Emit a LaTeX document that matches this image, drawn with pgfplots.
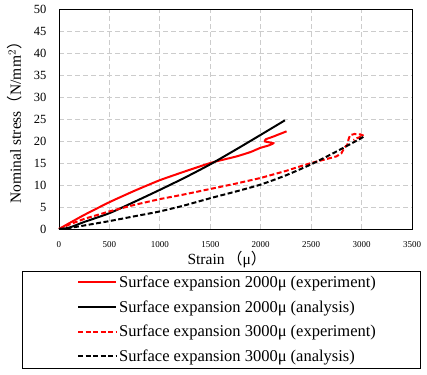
\documentclass[border=0pt]{standalone}
\usepackage{pgfplots}
\pgfplotsset{compat=1.18}
\usepackage{fontspec}
\setmainfont{Liberation Serif}
\newfontfamily\cjk{Noto Sans CJK SC}
\begin{document}
\begin{tikzpicture}
\useasboundingbox (-59pt,-145pt) rectangle (368pt,229pt);
\begin{axis}[
  at={(0,0)}, anchor=south west,
  scale only axis, width=353pt, height=220pt,
  xmin=0, xmax=3500, ymin=0, ymax=50,
  xtick={0,500,...,3500}, ytick={0,5,...,50},
  major tick length=0pt,
  /pgf/number format/assume math mode=true,
  scaled ticks=false,
  xticklabel style={font=\fontsize{9}{10}\selectfont, yshift=-9pt, /pgf/number format/1000 sep={}},
  yticklabel style={font=\fontsize{12.5}{14}\selectfont, xshift=-9pt},
  grid=major,
  major grid style={gray!40, line width=0.9pt, dash pattern=on 5pt off 3pt},
  axis line style={black, line width=1pt},
  xlabel={Strain\,{\cjk （}μ{\cjk ）}},
  ylabel={Nominal stress{\cjk （}N/mm$^2${\cjk ）}},
  label style={font=\fontsize{15.5}{17}\selectfont},
  xlabel style={at={(axis description cs:0.476,-0.141)}, anchor=center},
  ylabel style={at={(axis description cs:-0.125,0.5)}, anchor=center},
  legend style={at={(rel axis cs:0.051,-0.203)}, anchor=north west, draw=none, fill=none,
    inner sep=0pt, row sep=7.5pt, font=\fontsize{16.5}{18}\selectfont},
  legend cell align=left,
  legend image code/.code={\draw[#1] (0pt,0pt) -- (38pt,0pt);},
  clip=false,
]
\addplot[red, line width=2pt, smooth, tension=0.3] coordinates {
(0,0) (100,1.3) (250,3.2) (500,6.1) (750,8.7) (1000,11.1) (1250,13.1)
(1500,15.0) (1600,15.6) (1761,16.5) (1900,17.5) (1992,18.4) (2080,19.0) (2124,19.5)
(2042,19.9) (2051,20.4) (2124,21.0) (2256,22.2)};
\addlegendentry{Surface expansion 2000μ (experiment)}
\addplot[black, line width=2pt, smooth, tension=0.4] coordinates {
(0,0) (100,0.3) (250,1.6) (500,3.6) (750,6.2) (1000,8.9) (1250,11.7) (1500,14.7)
(1750,18.0) (2000,21.4) (2240,24.7)};
\addlegendentry{Surface expansion 2000μ (analysis)}
\addplot[red, line width=2pt, dash pattern=on 5pt off 2.5pt] coordinates {
(0,0) (100,1.0) (250,2.3) (500,4.0) (750,5.5) (1000,6.8) (1250,7.9) (1500,9.1)
(1750,10.3) (2000,11.6) (2250,13.2) (2400,14.3) (2500,15.0) (2686,16.1) (2750,16.5)
(2800,17.2) (2830,18.5) (2860,19.2) (2870,20.3) (2885,21.3) (2930,21.6) (2990,21.5)
(3020,21.2) (2960,20.7) (2920,20.2)};
\addlegendentry{Surface expansion 3000μ (experiment)}
\addplot[black, line width=2pt, dash pattern=on 5pt off 2.5pt, smooth, tension=0.4] coordinates {
(0,0) (120,0.3) (250,0.8) (500,1.8) (750,2.9) (1000,4.0) (1250,5.4) (1500,7.0)
(1750,8.5) (2000,10.1) (2250,12.2) (2500,14.7) (2750,17.6) (3000,20.7) (3016,21.1)};
\addlegendentry{Surface expansion 3000μ (analysis)}
\draw[black, line width=1pt] (rel axis cs:-0.102,-0.195) rectangle (rel axis cs:1.0227,-0.632);
\end{axis}
\end{tikzpicture}
\end{document}
